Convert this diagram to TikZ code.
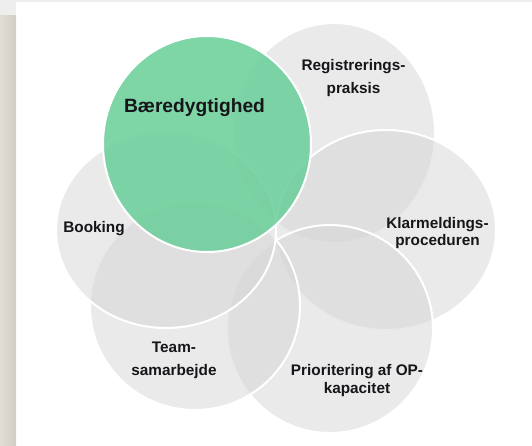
\documentclass[tikz,border=0pt]{standalone}
\usepackage{fontspec}
\setmainfont{Liberation Sans}
\usepackage{tikz}

\definecolor{petalgray}{RGB}{214,214,214}
\definecolor{petalgreen}{RGB}{108,207,154}
\definecolor{sidebarlight}{RGB}{224,221,213}
\definecolor{sidebardark}{RGB}{210,206,197}
\definecolor{topstrip}{RGB}{238,238,238}
\definecolor{labeltext}{RGB}{22,22,26}

\begin{document}
\begin{tikzpicture}[x=0.75pt,y=0.75pt,yscale=-1,xscale=1,
    petal/.style={draw=white, line width=1.5pt, fill=petalgray, fill opacity=0.52},
    petalhi/.style={draw=white, line width=1.5pt, fill=petalgreen, fill opacity=0.88},
    lbl/.style={inner sep=0.75pt, align=center, text=labeltext, font=\fontsize{11.5}{13}\selectfont\bfseries},
    lblwide/.style={lbl, font=\fontsize{11.5}{17.3}\selectfont\bfseries},
    lbltitle/.style={lbl, font=\fontsize{14.4}{17}\selectfont\bfseries}]
    \useasboundingbox (0,0) rectangle (532,446);

    %Shape: Rectangle [page strips]
    \fill [topstrip] (0,0) rectangle (16,15);
    \fill [topstrip] (16,0) rectangle (532,2);
    \fill [left color=sidebarlight, right color=sidebardark] (0,15) rectangle (16,446);

    %Shape: Ellipse [Registreringspraksis]
    \draw [petal] (334,133) ellipse [x radius=101, y radius=110];
    %Shape: Ellipse [Klarmeldingsproceduren]
    \draw [petal] (386,230) ellipse [x radius=110, y radius=100];
    %Shape: Ellipse [Prioritering]
    \draw [petal] (330,329) ellipse [x radius=103, y radius=104];
    %Shape: Ellipse [Teamsamarbejde]
    \draw [petal] (195,306) ellipse [x radius=105, y radius=104];
    %Shape: Ellipse [Booking]
    \draw [petal] (166,230) ellipse [x radius=110, y radius=98];
    %Shape: Ellipse [Baeredygtighed]
    \draw [petalhi] (207,144) ellipse [x radius=104, y radius=108];

    % Text Node
    \draw (194.5,108) node (baered) [lbltitle] {Bæredygtighed};
    % Text Node
    \draw (353.5,78.5) node (regist) [lblwide] {Registrerings-\\praksis};
    % Text Node
    \draw (437.5,233) node (klarm) [lbl] {Klarmeldings-\\proceduren};
    % Text Node
    \draw (357,380.5) node (priorit) [lbl] {Prioritering af OP-\\kapacitet};
    % Text Node
    \draw (174,360) node (team) [lblwide] {Team-\\samarbejde};
    % Text Node
    \draw (94,229) node (booking) [lbl] {Booking};

\end{tikzpicture}
\end{document}
